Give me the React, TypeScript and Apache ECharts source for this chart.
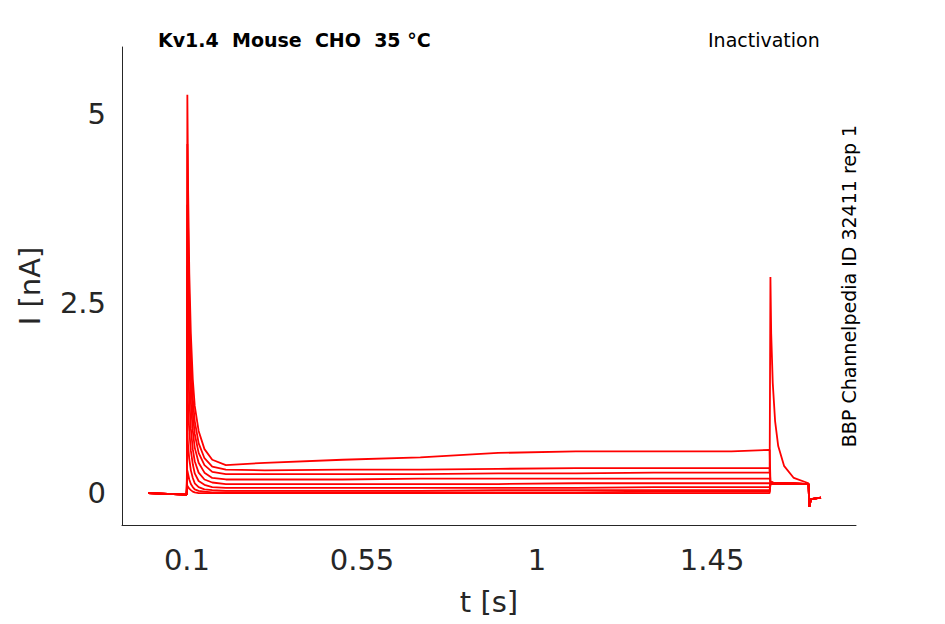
import { useEffect, useRef } from "react";
import * as echarts from "echarts";

// time points (s) shared by all sweeps
const times = [0, 0.099, 0.1, 0.101, 0.103, 0.106, 0.11, 0.115, 0.12, 0.13, 0.145, 0.165, 0.2, 0.3, 0.5, 0.7, 0.9, 1.1, 1.3, 1.5, 1.598, 1.6, 1.602, 1.606, 1.612, 1.62, 1.635, 1.66, 1.698, 1.7, 1.704, 1.73];

// current (nA) per sweep
const sweep1 = [0, -0.02, 0.3, 5.25, 4.0, 2.9, 2.1, 1.5, 1.15, 0.82, 0.58, 0.44, 0.37, 0.4, 0.44, 0.47, 0.53, 0.55, 0.55, 0.55, 0.57, 0.15, 0.14, 0.14, 0.13, 0.13, 0.13, 0.13, 0.12, -0.18, -0.08, -0.06];
const sweep2 = [0, -0.02, 0.2, 4.6, 3.5, 2.5, 1.8, 1.25, 0.95, 0.66, 0.46, 0.35, 0.31, 0.3, 0.31, 0.31, 0.32, 0.33, 0.33, 0.33, 0.33, 0.15, 0.14, 0.14, 0.13, 0.13, 0.13, 0.13, 0.12, -0.18, -0.08, -0.06];
const sweep3 = [0, -0.02, 0.15, 3.8, 2.9, 2.1, 1.5, 1.05, 0.78, 0.53, 0.37, 0.28, 0.25, 0.25, 0.25, 0.25, 0.26, 0.26, 0.27, 0.27, 0.27, 2.85, 2.1, 1.45, 0.95, 0.62, 0.36, 0.2, 0.13, -0.18, -0.08, -0.06];
const sweep4 = [0, -0.02, 0.1, 3.0, 2.3, 1.7, 1.2, 0.82, 0.6, 0.4, 0.27, 0.2, 0.18, 0.18, 0.18, 0.19, 0.19, 0.19, 0.19, 0.19, 0.19, 0.15, 0.14, 0.14, 0.13, 0.13, 0.13, 0.13, 0.12, -0.18, -0.08, -0.06];
const sweep5 = [0, -0.02, 0.08, 2.2, 1.7, 1.25, 0.85, 0.58, 0.42, 0.27, 0.18, 0.14, 0.12, 0.12, 0.12, 0.12, 0.12, 0.13, 0.13, 0.13, 0.13, 0.14, 0.14, 0.13, 0.13, 0.13, 0.13, 0.12, 0.12, -0.18, -0.08, -0.06];
const sweep6 = [0, -0.02, 0.06, 1.5, 1.15, 0.82, 0.56, 0.38, 0.26, 0.16, 0.11, 0.08, 0.07, 0.07, 0.07, 0.07, 0.07, 0.07, 0.08, 0.08, 0.08, 0.13, 0.13, 0.13, 0.13, 0.13, 0.12, 0.12, 0.12, -0.18, -0.08, -0.06];
const sweep7 = [0, -0.02, 0.05, 0.8, 0.62, 0.45, 0.3, 0.2, 0.13, 0.08, 0.05, 0.04, 0.03, 0.03, 0.03, 0.03, 0.04, 0.04, 0.04, 0.04, 0.04, 0.13, 0.13, 0.13, 0.12, 0.12, 0.12, 0.12, 0.12, -0.18, -0.08, -0.06];
const sweep8 = [0, -0.02, 0.04, 0.3, 0.25, 0.18, 0.12, 0.08, 0.05, 0.03, 0.02, 0.01, 0.01, 0.01, 0.01, 0.01, 0.01, 0.01, 0.02, 0.02, 0.02, 0.12, 0.12, 0.12, 0.12, 0.12, 0.12, 0.12, 0.12, -0.18, -0.08, -0.06];
const sweep9 = [0, -0.02, 0.02, 0.1, 0.08, 0.06, 0.04, 0.02, 0.01, 0, 0, 0, 0, 0, 0, 0, 0, 0, 0, 0, 0, 0.12, 0.12, 0.12, 0.12, 0.12, 0.12, 0.12, 0.12, -0.18, -0.08, -0.06];

const sweeps = [sweep1, sweep2, sweep3, sweep4, sweep5, sweep6, sweep7, sweep8, sweep9];
const xTicks = [0.1, 0.55, 1, 1.45];
const yTicks = [0, 2.5, 5];

export default function App() {
  const ref = useRef<HTMLDivElement>(null);

  useEffect(() => {
    const chart = echarts.init(ref.current, null, { renderer: "svg" });
    const axisText = { color: "#262626", fontSize: 29, fontFamily: "DejaVu Sans" };
    chart.setOption({
      animation: false,
      grid: { left: 114, right: 81, top: 39, bottom: 99, outerBoundsMode: "none" },
      title: [
        { text: "Kv1.4  Mouse  CHO  35 °C", left: 145, top: 17, textStyle: { fontSize: 19, fontWeight: "bold", color: "#000", fontFamily: "DejaVu Sans" } },
        { text: "Inactivation", left: 695, top: 17, textStyle: { fontSize: 19, fontWeight: "normal", color: "#000", fontFamily: "DejaVu Sans" } },
      ],
      graphic: [
        {
          type: "text",
          x: 841,
          y: 278,
          rotation: Math.PI / 2,
          style: { text: "BBP Channelpedia ID 32411 rep 1", fontSize: 19, fill: "#000", fontFamily: "DejaVu Sans", align: "center", verticalAlign: "middle" },
        },
      ],
      xAxis: {
        type: "value",
        min: -0.067,
        max: 1.82,
        name: "t [s]",
        nameLocation: "middle",
        nameGap: 62,
        nameTextStyle: axisText,
        splitLine: { show: false },
        axisTick: { show: false },
        axisLine: { onZero: false, lineStyle: { color: "#262626" } },
        axisLabel: { ...axisText, margin: 20, customValues: xTicks, formatter: (v: number) => String(v) },
      },
      yAxis: {
        type: "value",
        min: -0.42,
        max: 5.88,
        name: "I [nA]",
        nameLocation: "middle",
        nameGap: 78,
        nameTextStyle: axisText,
        splitLine: { show: false },
        axisTick: { show: false },
        axisLine: { show: true, onZero: false, lineStyle: { color: "#262626" } },
        axisLabel: { ...axisText, margin: 16, customValues: yTicks, formatter: (v: number) => String(v) },
      },
      series: sweeps.map((s, i) => ({
        type: "line",
        name: "sweep" + (i + 1),
        showSymbol: false,
        lineStyle: { color: "#ff0000", width: 1.8 },
        data: times.map((t, j) => [t, s[j]]),
      })),
    });
    return () => chart.dispose();
  }, []);

  return <div ref={ref} style={{ width: 929, height: 616 }} />;
}
